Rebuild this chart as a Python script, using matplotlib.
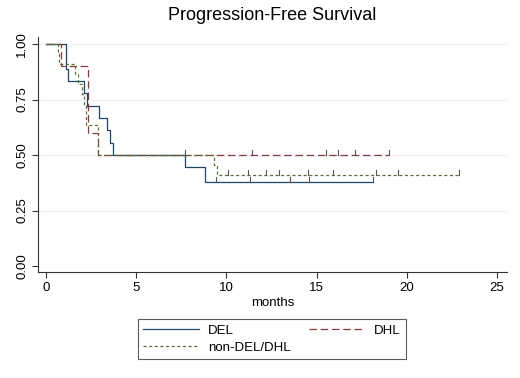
import matplotlib
matplotlib.use("Agg")
import matplotlib.pyplot as plt
import numpy as np

plt.rcParams['font.family'] = ['Liberation Sans', 'DejaVu Sans']

# ---- data ----
groups = ["DEL", "DHL", "non-DEL/DHL"]

del_times = [0, 1.1, 1.2, 2.1, 2.25, 2.95, 3.4, 3.55, 3.73, 7.7, 8.83]
del_surv = [1.0, 0.889, 0.833, 0.778, 0.722, 0.667, 0.611, 0.556, 0.5, 0.444, 0.38]
del_end = 18.1
del_cens = [9.4, 11.3, 13.5, 14.6, 18.1]

dhl_times = [0, 0.81, 2.35, 2.9]
dhl_surv = [1.0, 0.9, 0.6, 0.5]
dhl_end = 19.0
dhl_cens = [7.7, 11.4, 15.5, 16.2, 17.1, 19.0]

non_times = [0, 0.65, 0.75, 1.6, 1.8, 2.0, 2.1, 2.2, 2.9, 9.33, 9.5]
non_surv = [1.0, 0.955, 0.909, 0.864, 0.818, 0.773, 0.727, 0.636, 0.5, 0.455, 0.41]
non_end = 22.9
non_cens = [10.07, 11.2, 12.2, 12.9, 14.5, 15.9, 18.3, 19.5, 22.9]

xticks = [0, 5, 10, 15, 20, 25]
yticks = [0.0, 0.25, 0.5, 0.75, 1.0]
ytick_labels = ["0.00", "0.25", "0.50", "0.75", "1.00"]

colors = ["#1a476f", "#90353b", "#55752f"]
styles = ["-", (0, (6, 3)), (0, (2.5, 2))]

fig = plt.figure(figsize=(5.2, 3.78), dpi=100)
ax = fig.add_axes([38/520, 1-272/378, (507-38)/520, (272-37)/378])

for y in [0.25, 0.5, 0.75, 1.0]:
    ax.axhline(y, color="#eaf2f3", lw=1.0, zorder=0)

series = [(del_times, del_surv, del_end, del_cens),
          (dhl_times, dhl_surv, dhl_end, dhl_cens),
          (non_times, non_surv, non_end, non_cens)]

handles = []
for (t, s, end, cens), c, ls, name in zip(series, colors, styles, groups):
    tt = list(t) + [end]
    ss = list(s) + [s[-1]]
    h, = ax.step(tt, ss, where="post", color=c, lw=0.9, linestyle=ls, label=name, zorder=3)
    handles.append(h)
    # censor ticks
    tarr = np.array(t)
    for ct in cens:
        idx = np.searchsorted(tarr, ct, side="right") - 1
        sv = s[idx]
        ax.plot([ct, ct], [sv, sv + 0.022], color="#555555", lw=0.8, zorder=4)

ax.set_xlim(-0.44, 25.55)
ax.set_ylim(-0.027, 1.032)
ax.set_xticks(xticks)
ax.set_xticklabels([str(x) for x in xticks], fontsize=9.5)
ax.set_yticks(yticks)
ax.set_yticklabels(ytick_labels, fontsize=9.5, rotation=90, va="center")
ax.tick_params(axis="both", direction="out", length=4, width=0.8, color="#333333", pad=3)
for sp in ["top", "right"]:
    ax.spines[sp].set_visible(False)
for sp in ["left", "bottom"]:
    ax.spines[sp].set_color("#333333")
    ax.spines[sp].set_linewidth(0.8)

ax.set_xlabel("months", fontsize=9.5, labelpad=2)
fig.text(272/520, 1-15/378, "Progression-Free Survival", ha="center", va="center", fontsize=13)

# column-major fill: col1 = DEL, non-DEL/DHL ; col2 = DHL
order = [0, 2, 1]
leg = fig.legend(handles=[handles[i] for i in order],
                 labels=[groups[i] for i in order], loc="center", ncol=2,
                 bbox_to_anchor=(272/520, 1-339/378), fontsize=9.5,
                 frameon=True, fancybox=False, edgecolor="#333333",
                 handlelength=4.2, columnspacing=1.4, handletextpad=0.7,
                 borderpad=0.4, labelspacing=0.35)
leg.get_frame().set_linewidth(0.8)

fig.savefig("out.png", dpi=100, facecolor="white")
